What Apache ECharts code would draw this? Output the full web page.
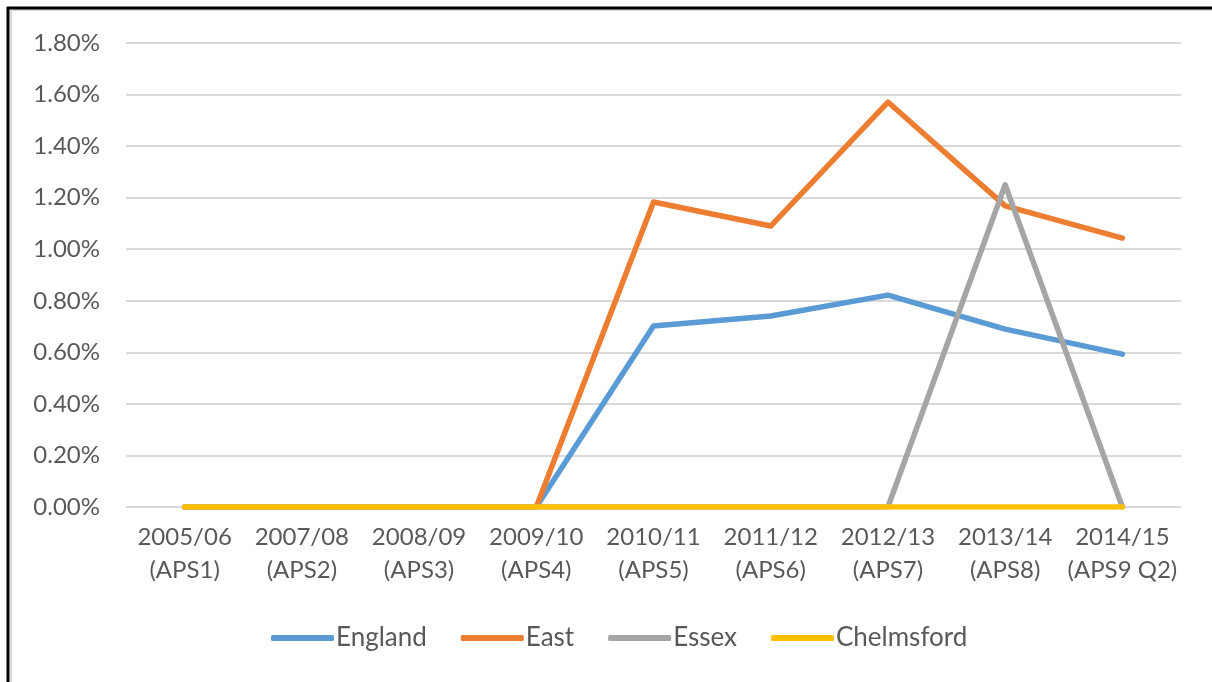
<!DOCTYPE html>
<html>
<head>
<meta charset="utf-8">
<script src="https://cdn.jsdelivr.net/npm/echarts@6/dist/echarts.min.js"></script>
<style>
html,body{margin:0;padding:0;background:#fff;}
#chart{width:1212px;height:682px;}
</style>
</head>
<body>
<div id="chart"></div>
<script>
const categories = ["2005/06\n(APS1)","2007/08\n(APS2)","2008/09\n(APS3)","2009/10\n(APS4)","2010/11\n(APS5)","2011/12\n(APS6)","2012/13\n(APS7)","2013/14\n(APS8)","2014/15\n(APS9 Q2)"];
const england    = [0, 0, 0, 0, 0.702, 0.741, 0.822, 0.690, 0.593];
const east       = [0, 0, 0, 0, 1.183, 1.090, 1.571, 1.168, 1.043];
const essex      = [0, 0, 0, 0, 0, 0, 0, 1.250, 0];
const chelmsford = [0, 0, 0, 0, 0, 0, 0, 0, 0];
const seriesNames = ["England", "East", "Essex", "Chelmsford"];
const seriesColors = ["#5B9BD5", "#ED7D31", "#A5A5A5", "#FFC000"];

const FONT = "Lato, 'Open Sans', sans-serif";
const chart = echarts.init(document.getElementById('chart'), null, {renderer:'canvas'});
const mk = (name, data, color) => ({
  name, type:'line', data, showSymbol:false, symbol:'none',
  lineStyle:{width:5.5, color, cap:'round', join:'round'},
  itemStyle:{color}, emphasis:{disabled:true}, animation:false
});
chart.setOption({
  animation:false,
  backgroundColor:'#fff',
  textStyle:{fontFamily:FONT},
  grid:{left:126, right:31, top:43, bottom:175, containLabel:false},
  legend:{
    data:seriesNames.map((n,i)=>({name:n, icon:'roundRect'})),
    bottom:26, left:266,
    itemWidth:63, itemHeight:6, itemGap:34,
    textStyle:{fontFamily:FONT, fontSize:26, color:'#595959', padding:[0,0,0,-3]}
  },
  xAxis:{
    type:'category', data:categories, boundaryGap:true,
    axisLine:{show:false}, axisTick:{show:false},
    axisLabel:{fontFamily:FONT, fontSize:24, color:'#595959', lineHeight:33, margin:14, interval:0}
  },
  yAxis:{
    type:'value', min:0, max:1.8, interval:0.2,
    axisLine:{show:false}, axisTick:{show:false},
    splitLine:{lineStyle:{color:'#D9D9D9', width:2}},
    axisLabel:{fontFamily:FONT, fontSize:24, color:'#595959', margin:26,
      formatter:v=>v.toFixed(2)+'%'}
  },
  series:[
    mk(seriesNames[0], england, seriesColors[0]),
    mk(seriesNames[1], east, seriesColors[1]),
    mk(seriesNames[2], essex, seriesColors[2]),
    mk(seriesNames[3], chelmsford, seriesColors[3])
  ],
  graphic:[
    {type:'line', shape:{x1:11, y1:10, x2:1212, y2:10}, style:{stroke:'#d8d8d8', lineWidth:2}, silent:true},
    {type:'line', shape:{x1:11, y1:10, x2:11, y2:682}, style:{stroke:'#d8d8d8', lineWidth:2}, silent:true},
    {type:'line', shape:{x1:7, y1:8, x2:1212, y2:8}, style:{stroke:'#000', lineWidth:3}, silent:true},
    {type:'line', shape:{x1:8, y1:7, x2:8, y2:682}, style:{stroke:'#000', lineWidth:3}, silent:true}
  ]
});
</script>
</body>
</html>
